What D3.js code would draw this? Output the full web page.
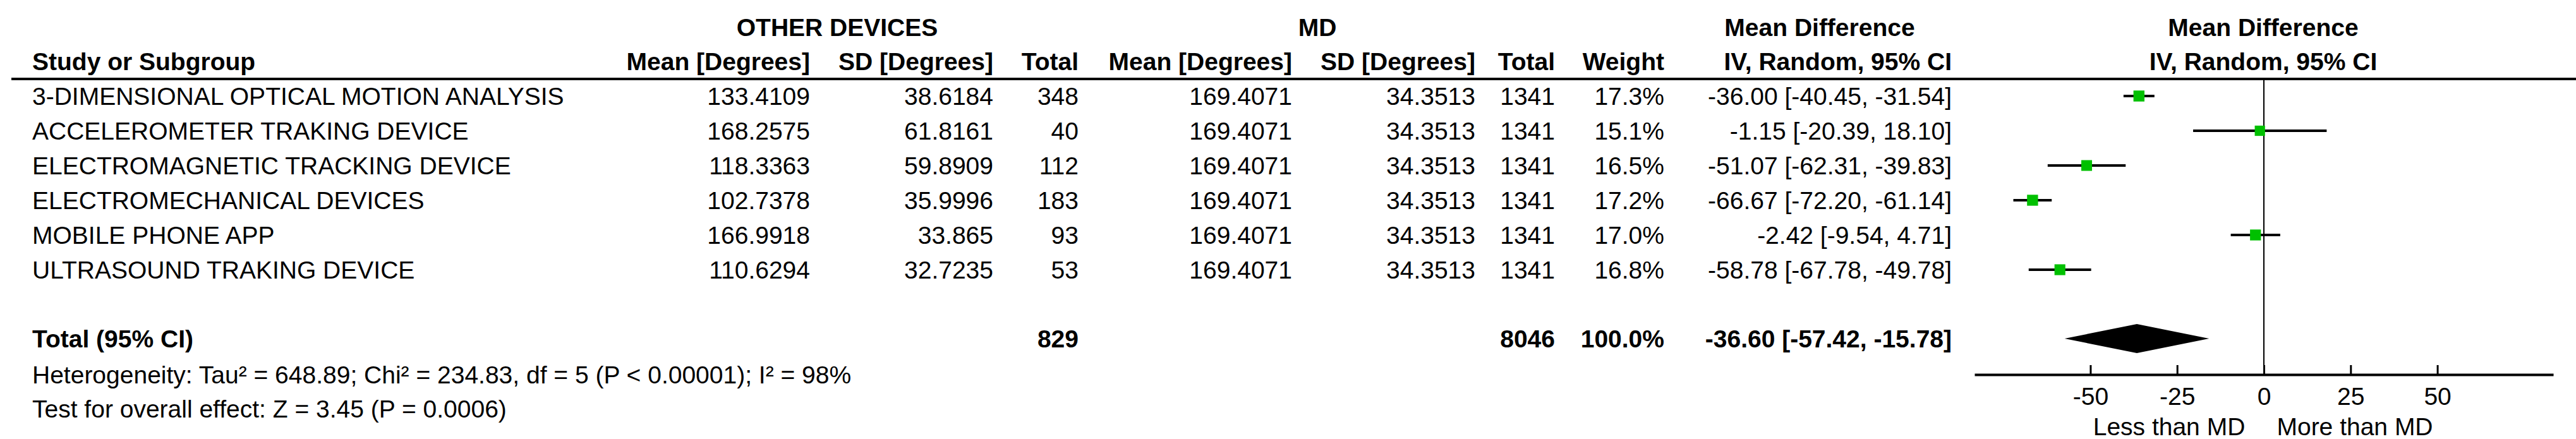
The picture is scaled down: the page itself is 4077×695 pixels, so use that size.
<!DOCTYPE html>
<html><head><meta charset="utf-8">
<script src="https://cdn.jsdelivr.net/npm/d3@7"></script>
<style>body{margin:0;background:#fff}text{font-family:Arial,"Liberation Sans",sans-serif;font-size:39px;fill:#000}</style>
</head><body>
<script>
const studies=["3-DIMENSIONAL OPTICAL MOTION ANALYSIS","ACCELEROMETER TRAKING DEVICE","ELECTROMAGNETIC TRACKING DEVICE","ELECTROMECHANICAL DEVICES","MOBILE PHONE APP","ULTRASOUND TRAKING DEVICE"];
const odMean=["133.4109","168.2575","118.3363","102.7378","166.9918","110.6294"];
const odSD=["38.6184","61.8161","59.8909","35.9996","33.865","32.7235"];
const odTotal=[348,40,112,183,93,53];
const mdMean=["169.4071","169.4071","169.4071","169.4071","169.4071","169.4071"];
const mdSD=["34.3513","34.3513","34.3513","34.3513","34.3513","34.3513"];
const mdTotal=[1341,1341,1341,1341,1341,1341];
const weights=[17.3,15.1,16.5,17.2,17.0,16.8];
const md=[-36.00,-1.15,-51.07,-66.67,-2.42,-58.78];
const lo=[-40.45,-20.39,-62.31,-72.20,-9.54,-67.78];
const hi=[-31.54,18.10,-39.83,-61.14,4.71,-49.78];
const total={od:829,md:8046,w:"100.0%",est:-36.60,lo:-57.42,hi:-15.78};
const ticks=[-50,-25,0,25,50];

const W=4077,H=695;
const svg=d3.select("body").append("svg").attr("width",W).attr("height",H);
const x=d3.scaleLinear().domain([-83.4,83.4]).range([3125,4041]);
const y=d3.scaleLinear().domain([0,5]).range([152,427]);
const fmt=v=>v.toFixed(2);
const T=(t,px,py,anchor,bold)=>svg.append("text").attr("x",px).attr("y",py).attr("dy","0.35em")
  .attr("text-anchor",anchor||"start").style("font-weight",bold?"bold":"normal").text(t);

T("OTHER DEVICES",1325,43,"middle",true);
T("MD",2085,43,"middle",true);
T("Mean Difference",2880,43,"middle",true);
T("Mean Difference",3582,43,"middle",true);
T("Study or Subgroup",51,97,"start",true);
[["Mean [Degrees]",1282],["SD [Degrees]",1572],["Total",1707],["Mean [Degrees]",2045],["SD [Degrees]",2335],["Total",2461],["Weight",2634],["IV, Random, 95% CI",3089]].forEach(d=>T(d[0],d[1],97,"end",true));
T("IV, Random, 95% CI",3582,97,"middle",true);
svg.append("line").attr("x1",18).attr("x2",W).attr("y1",125).attr("y2",125).attr("stroke","#000").attr("stroke-width",4);

svg.append("line").attr("x1",x(0)).attr("x2",x(0)).attr("y1",125).attr("y2",593).attr("stroke","#000").attr("stroke-width",2);

studies.forEach((s,i)=>{
  const yy=y(i);
  T(s,51,yy);
  T(odMean[i],1282,yy,"end");T(odSD[i],1572,yy,"end");T(odTotal[i],1707,yy,"end");
  T(mdMean[i],2045,yy,"end");T(mdSD[i],2335,yy,"end");T(mdTotal[i],2461,yy,"end");
  T(weights[i].toFixed(1)+"%",2634,yy,"end");
  T(fmt(md[i])+" ["+fmt(lo[i])+", "+fmt(hi[i])+"]",3089,yy,"end");
  svg.append("line").attr("x1",x(lo[i])).attr("x2",x(hi[i])).attr("y1",yy).attr("y2",yy).attr("stroke","#000").attr("stroke-width",4);
  const sz=17*Math.sqrt(weights[i]/16.5);
  svg.append("rect").attr("x",x(md[i])-sz/2).attr("y",yy-sz/2).attr("width",sz).attr("height",sz).attr("fill","#00c000");
});

const ty=536;
T("Total (95% CI)",51,ty,"start",true);
T(total.od,1707,ty,"end",true);T(total.md,2461,ty,"end",true);T(total.w,2634,ty,"end",true);
T(fmt(total.est)+" ["+fmt(total.lo)+", "+fmt(total.hi)+"]",3089,ty,"end",true);
svg.append("path").attr("d",`M${x(total.lo)},${ty}L${x(total.est)},${ty-23}L${x(total.hi)},${ty}L${x(total.est)},${ty+23}Z`).attr("fill","#000");
T("Heterogeneity: Tau² = 648.89; Chi² = 234.83, df = 5 (P < 0.00001); I² = 98%",51,593);
T("Test for overall effect: Z = 3.45 (P = 0.0006)",51,647);

const ax=svg.append("g").attr("transform","translate(0,593)")
  .call(d3.axisBottom(x).tickValues(ticks).tickFormat(d=>String(d)).tickSize(-15).tickPadding(20).tickSizeOuter(0));
ax.select(".domain").attr("stroke-width",4);
ax.selectAll(".tick line").attr("stroke-width",3);
ax.selectAll("text").style("font-size","39px").style("font-family","Arial,'Liberation Sans',sans-serif");
T("Less than MD",3433,675,"middle");
T("More than MD",3727,675,"middle");
</script>
</body></html>
